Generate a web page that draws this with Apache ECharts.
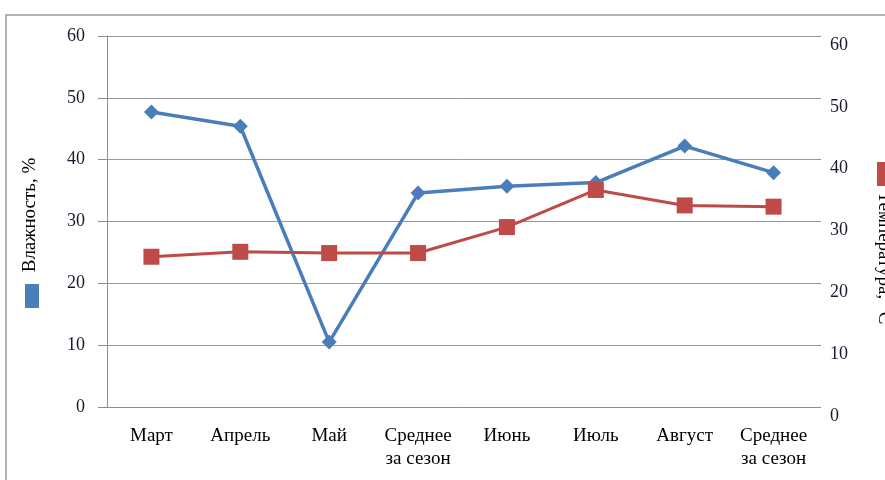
<!DOCTYPE html>
<html>
<head>
<meta charset="utf-8">
<script src="https://cdn.jsdelivr.net/npm/echarts@6/dist/echarts.min.js"></script>
<style>
  html, body { margin: 0; padding: 0; background: #fff; }
  #chart { width: 885px; height: 480px; }
</style>
</head>
<body>
<div id="chart"></div>
<script>
// categories (months + seasonal averages)
const months = ['Март', 'Апрель', 'Май', 'Среднее\nза сезон', 'Июнь', 'Июль', 'Август', 'Среднее\nза сезон'];
// humidity, %
const humidity = [47.7, 45.4, 10.5, 34.6, 35.7, 36.3, 42.2, 37.9];
// temperature, °C
const temperature = [24.3, 25.1, 24.9, 24.9, 29.1, 35.1, 32.6, 32.4];
const axisMin = 0;
const axisMax = 60;
const axisStep = 10;

const serif = '"Liberation Serif", "DejaVu Serif", serif';
const blue = '#4a7ebb';
const red = '#be4b48';

const chart = echarts.init(document.getElementById('chart'));
chart.setOption({
  animation: false,
  backgroundColor: '#fff',
  grid: { left: 107, right: 67, top: 36, bottom: 73 },
  xAxis: {
    type: 'category',
    data: months,
    boundaryGap: true,
    axisLine: { lineStyle: { color: '#8c8c8c', width: 1 } },
    axisTick: { length: 6, lineStyle: { color: '#8c8c8c' } },
    axisLabel: {
      interval: 0,
      margin: 18,
      fontFamily: serif,
      fontSize: 19,
      lineHeight: 23,
      color: '#000'
    }
  },
  yAxis: [
    {
      type: 'value',
      min: axisMin,
      max: axisMax,
      interval: axisStep,
      axisLine: { show: true, lineStyle: { color: '#8c8c8c' } },
      axisTick: { show: true, length: 9, lineStyle: { color: '#8c8c8c' } },
      splitLine: { lineStyle: { color: '#9a9a9a', width: 1 } },
      axisLabel: { margin: 22, fontFamily: serif, fontSize: 18, color: '#1a1a2e' }
    },
    {
      type: 'value',
      min: axisMin,
      max: axisMax,
      interval: axisStep,
      position: 'right',
      axisLine: { show: false },
      axisTick: { show: true, length: 3, lineStyle: { color: '#8c8c8c' } },
      splitLine: { show: false },
      axisLabel: {
        margin: 12,
        fontFamily: serif,
        fontSize: 18,
        color: '#1a1a2e',
        verticalAlign: 'top'
      }
    }
  ],
  series: [
    {
      name: 'Влажность, %',
      type: 'line',
      yAxisIndex: 0,
      data: humidity,
      symbol: 'diamond',
      symbolSize: 15,
      lineStyle: { color: blue, width: 3.5 },
      itemStyle: { color: blue }
    },
    {
      name: 'Температура, °C',
      type: 'line',
      yAxisIndex: 1,
      data: temperature,
      symbol: 'rect',
      symbolSize: 16,
      lineStyle: { color: red, width: 3 },
      itemStyle: { color: red }
    }
  ],
  graphic: [
    // chart frame
    {
      type: 'rect',
      shape: { x: 6, y: 15, width: 900, height: 500 },
      style: { fill: 'none', stroke: '#9a9a9a', lineWidth: 1.5 },
      silent: true
    },
    // left axis name + legend key
    {
      type: 'text',
      x: 30, y: 215,
      rotation: Math.PI / 2,
      style: {
        text: 'Влажность, %',
        fontFamily: serif, fontSize: 19, fill: '#000',
        align: 'center', verticalAlign: 'middle'
      }
    },
    {
      type: 'rect',
      shape: { x: 25, y: 284, width: 14, height: 24 },
      style: { fill: blue }
    },
    // right axis name + legend key
    {
      type: 'text',
      x: 884, y: 258,
      rotation: -Math.PI / 2,
      style: {
        text: 'Температура, °C',
        fontFamily: serif, fontSize: 19, fill: '#000',
        align: 'center', verticalAlign: 'middle'
      }
    },
    {
      type: 'rect',
      shape: { x: 877, y: 162, width: 10, height: 24 },
      style: { fill: red }
    }
  ]
});
</script>
</body>
</html>
